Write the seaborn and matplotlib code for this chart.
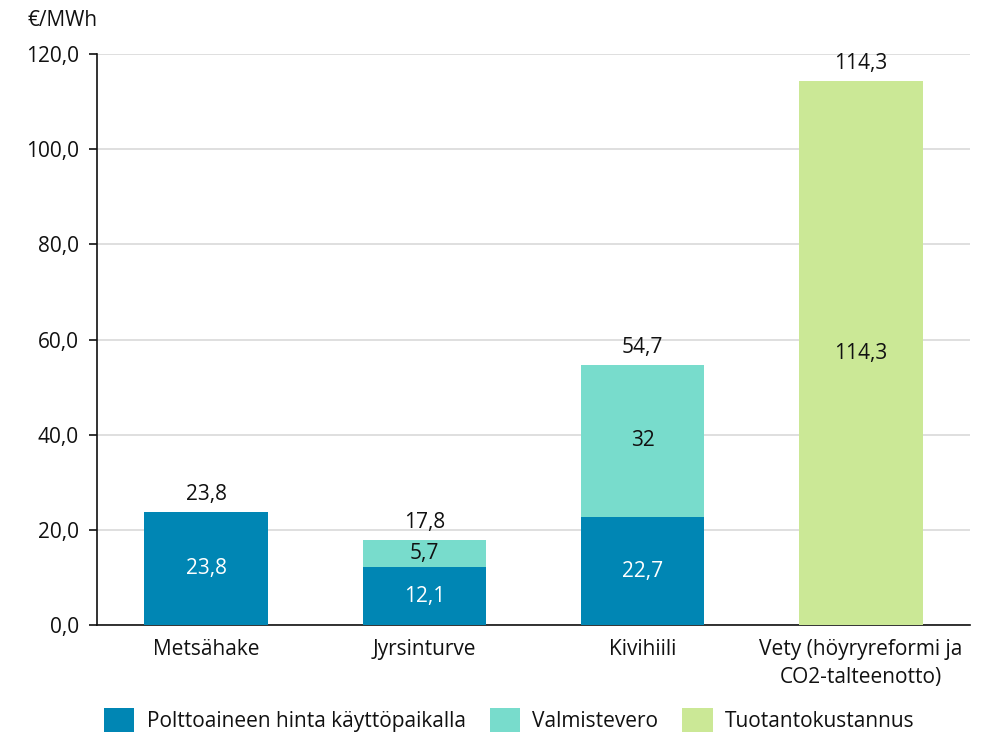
import matplotlib
matplotlib.use("Agg")
import matplotlib.pyplot as plt
import seaborn as sns
import pandas as pd
from matplotlib.patches import Patch

# Fuel cost components, €/MWh
categories = ["Metsähake", "Jyrsinturve", "Kivihiili",
              "Vety (höyryreformi ja\nCO2-talteenotto)"]
series_names = ["Polttoaineen hinta käyttöpaikalla", "Valmistevero", "Tuotantokustannus"]
polttoaine = [23.8, 12.1, 22.7, 0.0]
valmistevero = [0.0, 5.7, 32.0, 0.0]
tuotanto = [0.0, 0.0, 0.0, 114.3]
segment_labels = [
    ["23,8", "12,1", "22,7", None],
    [None, "5,7", "32", None],
    [None, None, None, "114,3"],
]
totals = [23.8, 17.8, 54.7, 114.3]
total_labels = ["23,8", "17,8", "54,7", "114,3"]
y_ticks = [0, 20, 40, 60, 80, 100, 120]
y_tick_labels = ["0,0", "20,0", "40,0", "60,0", "80,0", "100,0", "120,0"]

colors = ["#0086B4", "#78DCCC", "#CBE896"]
label_colors = ["white", "#111111", "#111111"]

sns.set_theme(style="white")
plt.rcParams["font.family"] = ["Open Sans", "DejaVu Sans"]
FS = 15
TXT = "#111111"

df = pd.DataFrame({
    "kategoria": categories * 3,
    "sarja": sum([[s] * len(categories) for s in series_names], []),
    "arvo": polttoaine + valmistevero + tuotanto,
})

fig = plt.figure(figsize=(9.87, 7.33), dpi=100)
ax = fig.add_axes([0.0983, 0.1473, 0.8845, 0.779])

bottoms = [0.0] * len(categories)
for i, name in enumerate(series_names):
    sub = df[df["sarja"] == name]
    sns.barplot(data=sub, x="kategoria", y="arvo", order=categories,
                color=colors[i], width=0.565, ax=ax, bottom=bottoms,
                saturation=1, linewidth=0, zorder=3)
    cont = ax.containers[-1]
    for j, bar in enumerate(cont.patches):
        lab = segment_labels[i][j]
        if lab is None:
            continue
        bg = None
        if name == "Valmistevero" and sub["arvo"].iloc[j] < 8:
            bg = dict(boxstyle="square,pad=0.08", fc=colors[i], ec="none")
        ax.text(bar.get_x() + bar.get_width() / 2,
                bar.get_y() + bar.get_height() / 2, lab,
                ha="center", va="center", fontsize=FS,
                color=label_colors[i], bbox=bg, zorder=5)
    bottoms = [b + v for b, v in zip(bottoms, sub["arvo"].tolist())]

# totals above each bar
for j, (t, lab) in enumerate(zip(totals, total_labels)):
    ax.annotate(lab, (j, t), xytext=(0, 5), textcoords="offset points",
                ha="center", va="bottom", fontsize=FS, color=TXT)

ax.set_ylim(0, 120)
ax.set_xlim(-0.5, len(categories) - 0.5)
ax.set_yticks(y_ticks)
ax.set_yticklabels(y_tick_labels)
ax.set_xlabel("")
ax.set_ylabel("")
ax.yaxis.grid(True, color="#D9D9D9", linewidth=1.2, zorder=0)
ax.xaxis.grid(False)
ax.set_axisbelow(True)
for s in ["top", "right"]:
    ax.spines[s].set_visible(False)
for s in ["left", "bottom"]:
    ax.spines[s].set_color("#111111")
    ax.spines[s].set_linewidth(1.2)
ax.tick_params(axis="y", which="major", left=True, length=6, width=1.2,
               color="#111111", pad=7, labelsize=FS, labelcolor=TXT)
ax.tick_params(axis="x", which="major", bottom=False, length=0, pad=10,
               labelsize=FS, labelcolor=TXT)
for t in ax.get_xticklabels():
    t.set_linespacing(1.45)
    t.set_verticalalignment("top")

fig.text(28 / 987, 1 - 20 / 733, "€/MWh", ha="left", va="center",
         fontsize=FS, color=TXT)

handles = [Patch(facecolor=c, edgecolor="none") for c in colors]
fig.legend(handles, series_names, loc="center", bbox_to_anchor=(0.516, 1 - 720 / 733),
           ncol=3, frameon=False, fontsize=FS, handlelength=1.45, handleheight=1.45,
           handletextpad=0.6, columnspacing=1.15, labelcolor=TXT)

fig.savefig("out.png", dpi=100, facecolor="white")
